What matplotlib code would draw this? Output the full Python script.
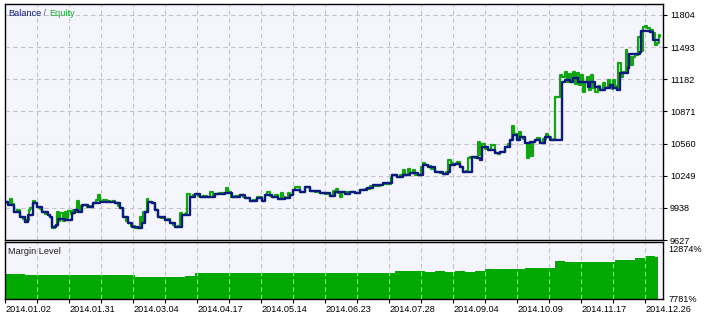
import numpy as np
import matplotlib
matplotlib.use('Agg')
import matplotlib.pyplot as plt

plt.rcParams['font.family'] = ['Liberation Sans', 'DejaVu Sans']

# trade index / value pairs
bal_idx = [0, 3, 9, 15, 20, 23, 28, 32, 37, 43, 45, 47, 51, 53, 60, 63, 67, 70, 73, 77,
           83, 88, 95, 105, 110, 115, 118, 123, 127, 133, 137, 140, 143, 147, 150, 153, 160,
           165, 170, 175, 177, 183, 185, 190, 195, 202, 210, 220, 227, 235, 240, 245, 252,
           257, 260, 267, 273, 280, 285, 288, 295, 300, 305, 315, 325, 330, 337, 340, 345,
           350, 355, 362, 368, 375, 378, 385, 387, 392, 398, 405, 413, 418, 423, 430, 438,
           443, 445, 450, 455, 458, 465, 467, 472, 475, 477, 483, 490, 495, 500, 505, 508,
           512, 515, 520, 525, 530, 535, 540, 545, 555, 557, 560, 565, 568, 573, 578, 583,
           585, 590, 595, 600, 605, 608, 612, 615, 623, 624, 635, 636, 645, 648, 653]
bal_val = [9995, 9966, 9898, 9850, 9801, 9869, 9985, 9946, 9898, 9869, 9850, 9753, 9772, 9830,
           9821, 9821, 9888, 9917, 9898, 9966, 9946, 9985, 9995, 9995, 9985, 9937, 9850, 9791,
           9753, 9743, 9791, 9898, 9995, 9985, 9917, 9850, 9821, 9791, 9753, 9753, 9869, 9869,
           10043, 10072, 10043, 10043, 10072, 10082, 10043, 10062, 10033, 10004, 10033, 10004,
           10062, 10043, 10024, 10033, 10062, 10111, 10091, 10140, 10101, 10082, 10053, 10091,
           10091, 10072, 10091, 10082, 10111, 10130, 10159, 10159, 10179, 10179, 10256, 10237,
           10256, 10275, 10256, 10353, 10333, 10285, 10266, 10285, 10353, 10362, 10333, 10285,
           10285, 10430, 10420, 10401, 10527, 10498, 10469, 10478, 10527, 10595, 10643, 10595,
           10624, 10566, 10575, 10595, 10566, 10624, 10595, 10595, 11156, 11175, 11156, 11195,
           11156, 11156, 11107, 11156, 11107, 11078, 11098, 11127, 11098, 11078, 11243, 11290,
           11430, 11446, 11650, 11640, 11562, 11562]

eq_idx = [0, 3, 5, 7, 9, 12, 15, 18, 20, 22, 24, 25, 28, 30, 32, 35, 37, 40, 43, 45, 47, 50,
          52, 54, 55, 58, 60, 62, 63, 66, 68, 70, 71, 72, 74, 76, 78, 82, 85, 88, 91, 93, 95,
          98, 102, 105, 108, 110, 113, 115, 118, 121, 123, 126, 128, 130, 133, 135, 136, 137,
          138, 140, 142, 143, 147, 150, 153, 156, 160, 163, 165, 168, 170, 173, 175, 177, 180,
          181, 182, 185, 188, 190, 193, 195, 198, 202, 205, 208, 210, 214, 219, 221, 223, 226,
          230, 235, 238, 240, 245, 248, 252, 257, 260, 262, 265, 267, 270, 273, 276, 278, 280,
          283, 285, 288, 290, 295, 300, 305, 310, 315, 320, 325, 328, 331, 333, 335, 337, 343,
          345, 350, 355, 360, 362, 365, 368, 372, 375, 378, 385, 386, 387, 392, 395, 398, 400,
          403, 405, 408, 410, 413, 416, 418, 420, 423, 426, 430, 435, 438, 441, 443, 446, 448,
          452, 455, 458, 461, 463, 465, 467, 470, 473, 475, 477, 480, 483, 486, 490, 493, 495,
          500, 503, 505, 507, 509, 512, 514, 516, 518, 520, 522, 524, 526, 528, 530, 532, 535,
          538, 541, 543, 546, 549, 550, 554, 555, 557, 560, 562, 564, 566, 568, 570, 572, 574,
          576, 578, 580, 582, 584, 586, 588, 590, 593, 595, 598, 600, 603, 605, 607, 608, 610,
          612, 613, 616, 618, 621, 622, 624, 626, 628, 630, 633, 636, 638, 640, 642, 645, 648,
          650, 652, 654, 655]
eq_val = [9995, 9985, 10024, 9975, 9898, 9917, 9850, 9830, 9801, 9820, 9917, 9937, 10000, 9985,
          9946, 9930, 9898, 9880, 9869, 9850, 9740, 9760, 9901, 9810, 9890, 9815, 9900, 9820,
          9905, 9880, 9920, 9917, 9900, 10000, 9920, 9960, 9970, 9946, 9960, 9985, 10010, 10062,
          10000, 10010, 10000, 9995, 10005, 9985, 9960, 9937, 9850, 9810, 9791, 9760, 9765, 9740,
          9743, 9850, 9780, 9791, 9900, 9898, 10024, 9995, 9985, 9917, 9850, 9840, 9821, 9830,
          9791, 9770, 9753, 9760, 9888, 9869, 9880, 9888, 10072, 10043, 10060, 10072, 10050,
          10043, 10050, 10043, 10091, 10060, 10072, 10080, 10085, 10130, 10090, 10045, 10050,
          10062, 10045, 10033, 10004, 10015, 10040, 10004, 10062, 10091, 10050, 10043, 10060,
          10024, 10085, 10040, 10033, 10082, 10062, 10111, 10140, 10091, 10140, 10101, 10095,
          10082, 10070, 10053, 10100, 10120, 10085, 10043, 10091, 10080, 10091, 10082, 10111,
          10125, 10120, 10150, 10145, 10150, 10155, 10170, 10170, 10230, 10256, 10237, 10256,
          10300, 10260, 10310, 10275, 10300, 10260, 10256, 10330, 10372, 10353, 10345, 10310,
          10285, 10275, 10266, 10280, 10401, 10370, 10362, 10380, 10333, 10285, 10290, 10420,
          10430, 10430, 10425, 10575, 10450, 10560, 10510, 10498, 10546, 10469, 10460, 10478,
          10527, 10560, 10595, 10730, 10650, 10595, 10672, 10624, 10600, 10566, 10420, 10560,
          10440, 10575, 10595, 10610, 10566, 10600, 10650, 10624, 10595, 10600, 11011, 11011,
          11224, 11200, 11253, 11160, 11230, 11175, 11250, 11140, 11240, 11130, 11220, 11060,
          11160, 11200, 11080, 11220, 11100, 11060, 11120, 11078, 11150, 11098, 11170, 11127,
          11090, 11175, 11120, 11098, 11340, 11200, 11250, 11465, 11300, 11400, 11320, 11400,
          11420, 11591, 11460, 11688, 11700, 11680, 11660, 11630, 11514, 11530, 11611, 11600]

margin_idx = [0, 10, 20, 30, 40, 50, 60, 70, 80, 90, 100, 110, 120, 130, 140, 150, 160, 170,
              180, 190, 200, 210, 220, 230, 240, 250, 260, 270, 280, 290, 300, 310, 320, 330,
              340, 350, 360, 370, 380, 390, 400, 410, 420, 430, 440, 450, 460, 470, 480, 490,
              500, 510, 520, 530, 540, 550, 560, 570, 580, 590, 600, 610, 620, 630, 640, 650, 653]
margin_val = [10327, 10300, 10225, 10240, 10200, 10230, 10250, 10230, 10260, 10240, 10255,
              10260, 10240, 10022, 10040, 10010, 10030, 10060, 10154, 10429, 10440, 10420,
              10450, 10430, 10420, 10440, 10430, 10460, 10440, 10450, 10430, 10440, 10430,
              10420, 10440, 10435, 10430, 10450, 10430, 10600, 10610, 10590, 10570, 10590,
              10580, 10600, 10570, 10590, 10870, 10860, 10880, 10870, 10940, 10930, 10950,
              11620, 11560, 11550, 11540, 11560, 11540, 11784, 11780, 11960, 12131, 12110, 12110]

bal_ticks = [9627, 9938, 10249, 10560, 10871, 11182, 11493, 11804]
margin_ticks = [7781, 12874]
date_pos = [0, 64, 128, 192, 256, 320, 384, 448, 512, 576, 640]
date_labels = ['2014.01.02', '2014.01.31', '2014.03.04', '2014.04.17', '2014.05.14',
               '2014.06.23', '2014.07.28', '2014.09.04', '2014.10.09', '2014.11.17', '2014.12.26']

W, H = 707, 316
bg = '#f5f5fd'
grid_kw = dict(color='#c4c4c8', linestyle=(0, (4, 3)), linewidth=0.8)
fs = 6.6

fig = plt.figure(figsize=(W / 100, H / 100), dpi=100)
fig.patch.set_facecolor('white')

ax = fig.add_axes([5 / W, 1 - 240 / H, 658 / W, 236 / H])
ax2 = fig.add_axes([5 / W, 1 - 299 / H, 658 / W, 57 / H])

for a in (ax, ax2):
    a.set_facecolor(bg)
    a.set_xlim(0, 658)
    for s in a.spines.values():
        s.set_linewidth(1.0)
        s.set_color('black')
    a.set_xticks(np.arange(32, 658, 32))
    a.grid(True, axis='x', **grid_kw)
    a.yaxis.tick_right()
    a.tick_params(axis='y', direction='out', length=3, pad=2, labelsize=fs, width=0.8)

# balance / equity panel
ax.plot(eq_idx, eq_val, color='#12a512', linewidth=1.6, drawstyle='steps-post')
ax.plot(bal_idx, bal_val, color='#0c1a80', linewidth=1.7, drawstyle='steps-post')
ax.set_ylim(9627, 11910)
ax.set_yticks(bal_ticks)
ax.set_yticklabels([str(v) for v in bal_ticks])
ax.grid(True, axis='y', **grid_kw)
ax.tick_params(axis='x', length=0, labelbottom=False)

t1 = ax.text(3 / 658, 1 - 9 / 236, 'Balance', transform=ax.transAxes, fontsize=fs,
             color='#0c1a80', va='center', ha='left')
t2 = ax.annotate(' / ', xy=(1, 0), xycoords=t1, fontsize=fs, color='#606060',
                 va='bottom', ha='left')
ax.annotate('Equity', xy=(1, 0), xycoords=t2, fontsize=fs, color='#12b02c',
            va='bottom', ha='left')

# margin level panel
ax2.fill_between(margin_idx, 7781, margin_val, step='post', color='#00a800', linewidth=0)
ax2.set_ylim(7781, 13587)
ax2.set_yticks(margin_ticks)
ax2.set_yticklabels([f'{v}%' for v in margin_ticks])
ax2.tick_params(axis='y', length=0, pad=4)
ax2.set_xticks(date_pos, labels=date_labels)
ax2.set_xticks(np.arange(32, 658, 64), minor=True)
ax2.tick_params(axis='x', which='both', direction='out', length=3, width=0.8,
                labelsize=fs, pad=1)
for lb in ax2.get_xticklabels():
    lb.set_ha('left')
ax2.grid(True, axis='x', which='both', **grid_kw)
ax2.text(3 / 658, 1 - 9 / 57, 'Margin Level', transform=ax2.transAxes, fontsize=fs,
         color='#202020', va='center', ha='left')

fig.savefig('out.png', dpi=100, facecolor='white')
